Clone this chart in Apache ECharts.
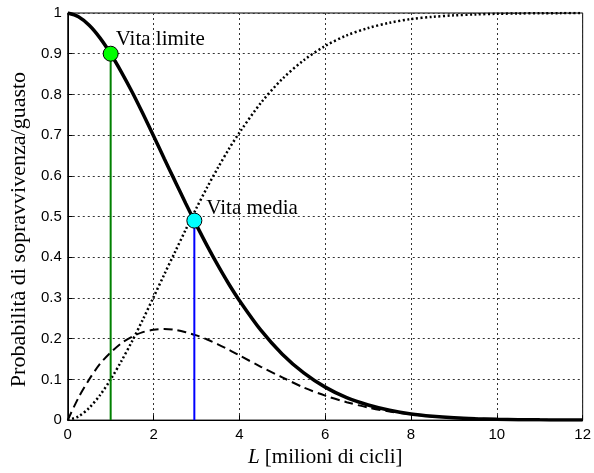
<!DOCTYPE html>
<html>
<head>
<meta charset="utf-8">
<script src="https://cdn.jsdelivr.net/npm/echarts@6/dist/echarts.min.js"></script>
<style>
html,body{margin:0;padding:0;background:#fff;}
#c{width:594px;height:473px;}
</style>
</head>
<body>
<div id="c"></div>
<script>
// Data
var xs = [0, 0.25, 0.5, 0.75, 1, 1.25, 1.5, 1.75, 2, 2.25, 2.5, 2.75, 3, 3.25, 3.5, 3.75, 4, 4.5, 5, 5.5, 6, 6.5, 7, 7.5, 8, 8.5, 9, 9.5, 10, 10.5, 11, 11.5, 12];
var survival = [1, 0.991, 0.970, 0.939, 0.900, 0.855, 0.806, 0.753, 0.698, 0.642, 0.587, 0.532, 0.479, 0.428, 0.380, 0.335, 0.294, 0.221, 0.162, 0.116, 0.081, 0.055, 0.037, 0.024, 0.015, 0.0095, 0.0058, 0.0035, 0.002, 0.0011, 0.0006, 0.0003, 0.0002];
var failure = [0, 0.009, 0.030, 0.061, 0.100, 0.145, 0.194, 0.247, 0.302, 0.358, 0.413, 0.468, 0.521, 0.572, 0.620, 0.665, 0.706, 0.779, 0.838, 0.884, 0.919, 0.945, 0.963, 0.976, 0.985, 0.9905, 0.9942, 0.9965, 0.998, 0.9989, 0.9994, 0.9997, 0.9998];
var density = [0, 0.055, 0.100, 0.138, 0.166, 0.189, 0.205, 0.216, 0.222, 0.224, 0.222, 0.216, 0.208, 0.198, 0.186, 0.173, 0.159, 0.131, 0.105, 0.080, 0.060, 0.044, 0.031, 0.021, 0.014, 0.009, 0.006, 0.004, 0.002, 0.0013, 0.0008, 0.0004, 0.0002];
var vitaLimite = [1, 0.9];
var vitaMedia = [2.95, 0.49];
var xTicks = [0, 2, 4, 6, 8, 10, 12];
var yTicks = [0, 0.1, 0.2, 0.3, 0.4, 0.5, 0.6, 0.7, 0.8, 0.9, 1];

function pairs(x, y){ return x.map(function(v,i){ return [v, y[i]]; }); }

var serif = 'Liberation Serif';
var sans = 'Liberation Sans';
var gridLine = { show: true, lineStyle: { color: '#333', width: 1, type: [2, 3] } };

var chart = echarts.init(document.getElementById('c'), null, {renderer: 'canvas'});
chart.setOption({
  animation: false,
  grid: { left: 66, right: 9, top: 13, bottom: 52, show: true, borderColor: '#000', borderWidth: 1, backgroundColor: 'transparent' },
  xAxis: {
    type: 'value', min: xTicks[0], max: xTicks[xTicks.length-1], interval: 2,
    axisLine: { show: true, lineStyle: { color: '#000', width: 1 } },
    axisTick: { show: true, inside: true, length: 5, lineStyle: { color: '#000' } },
    axisLabel: { color: '#000', fontFamily: sans, fontSize: 15, margin: 7 },
    splitLine: gridLine,
    name: '{i|L} [milioni di cicli]',
    nameLocation: 'middle', nameGap: 21,
    nameTextStyle: { color: '#000', fontFamily: serif, fontSize: 21,
      rich: { i: { fontStyle: 'italic', fontFamily: serif, fontSize: 21, color: '#000' } } }
  },
  yAxis: {
    type: 'value', min: yTicks[0], max: yTicks[yTicks.length-1], interval: 0.1,
    axisLine: { show: true, lineStyle: { color: '#000', width: 1 } },
    axisTick: { show: true, inside: true, length: 5, lineStyle: { color: '#000' } },
    axisLabel: { color: '#000', fontFamily: sans, fontSize: 15, margin: 6 },
    splitLine: gridLine,
    name: 'Probabilità di sopravvivenza/guasto',
    nameLocation: 'middle', nameGap: 36,
    nameTextStyle: { color: '#000', fontFamily: serif, fontSize: 22, padding: [0, 26, 0, 0] }
  },
  series: [
    { type: 'line', data: pairs(xs, failure), smooth: 0.3, symbol: 'none',
      lineStyle: { color: '#000', width: 2.5, type: [2, 2.5] }, z: 3 },
    { type: 'line', data: pairs(xs, density), smooth: 0.3, symbol: 'none',
      lineStyle: { color: '#000', width: 2, type: [9, 5] }, z: 3 },
    { type: 'line', data: pairs(xs, survival), smooth: 0.3, symbol: 'none',
      lineStyle: { color: '#000', width: 3.5 }, z: 4 },
    { type: 'line', data: [[vitaLimite[0], 0], vitaLimite], symbol: 'none',
      lineStyle: { color: '#008000', width: 2 }, z: 5 },
    { type: 'line', data: [[vitaMedia[0], 0], vitaMedia], symbol: 'none',
      lineStyle: { color: '#0000ff', width: 2 }, z: 5 },
    { type: 'scatter', data: [vitaLimite], symbol: 'circle', symbolSize: 15,
      itemStyle: { color: '#00ff00', borderColor: '#000', borderWidth: 1, opacity: 1 }, z: 6,
      label: { show: true, formatter: 'Vita limite', position: 'right', distance: -3, offset: [0, -14],
        color: '#000', fontFamily: serif, fontSize: 21 } },
    { type: 'scatter', data: [vitaMedia], symbol: 'circle', symbolSize: 15,
      itemStyle: { color: '#00ffff', borderColor: '#000', borderWidth: 1, opacity: 1 }, z: 6,
      label: { show: true, formatter: 'Vita media', position: 'right', distance: 4, offset: [0, -12],
        color: '#000', fontFamily: serif, fontSize: 21 } }
  ]
});
</script>
</body>
</html>
